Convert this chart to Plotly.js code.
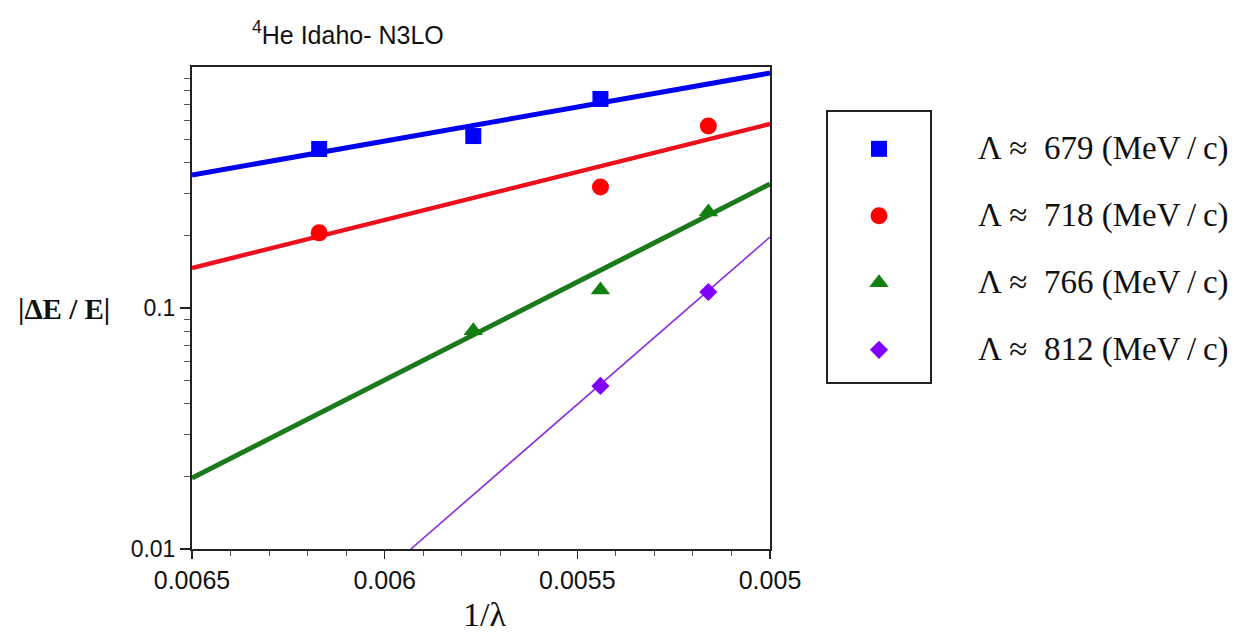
<!DOCTYPE html>
<html>
<head>
<meta charset="utf-8">
<script src="https://cdn.plot.ly/plotly-3.0.1.min.js"></script>
<style>html,body{margin:0;padding:0;background:#fff;}#chart{width:1248px;height:632px;}</style>
</head>
<body>
<div id="chart"></div>
<script>
// ---- data ----
const blueX = [0.00617, 0.00577, 0.00544];
const blueY = [0.457, 0.517, 0.737];
const redX = [0.00617, 0.00544, 0.00516];
const redY = [0.205, 0.318, 0.569];
const greenX = [0.00577, 0.00544, 0.00516];
const greenY = [0.0804, 0.1188, 0.250];
const purpleX = [0.00544, 0.00516];
const purpleY = [0.0475, 0.1165];

// fitted lines (end points)
const fitX = [0.0065, 0.005];
const blueFitY = [0.356, 0.944];
const redFitY = [0.1466, 0.580];
const greenFitY = [0.0197, 0.327];
const purpleFitX = [0.005932, 0.005];
const purpleFitY = [0.01, 0.197];

const cutoffs = ['679', '718', '766', '812'];
const xTickVals = [0.0065, 0.006, 0.0055, 0.005];
const xTickText = ['0.0065', '0.006', '0.0055', '0.005'];
const xMinorVals = [0.0064,0.0063,0.0062,0.0061,0.0059,0.0058,0.0057,0.0056,0.0054,0.0053,0.0052,0.0051];
const yTickVals = [0.01, 0.1];
const yTickText = ['0.01', '0.1'];
const yMinorVals = [0.02,0.03,0.04,0.05,0.06,0.07,0.08,0.09,0.2,0.3,0.4,0.5,0.6,0.7,0.8,0.9];

// ---- styles ----
const C = {
  blue: '#0000f0', red: '#ee0f1e', green: '#1b7a1b', purple: '#8a2be2',
  blueM: '#0000ff', redM: '#ff0000', greenM: '#118011', purpleM: '#7f00ff'
};
const W = 1248, H = 632;
const px = v => v / W, py = v => 1 - v / H;

const traces = [
  {x: fitX, y: blueFitY, mode: 'lines', line: {color: C.blue, width: 5}, showlegend: false, hoverinfo: 'skip'},
  {x: fitX, y: redFitY, mode: 'lines', line: {color: C.red, width: 4.5}, showlegend: false, hoverinfo: 'skip'},
  {x: fitX, y: greenFitY, mode: 'lines', line: {color: C.green, width: 5}, showlegend: false, hoverinfo: 'skip'},
  {x: purpleFitX, y: purpleFitY, mode: 'lines', line: {color: C.purple, width: 1.6}, showlegend: false, hoverinfo: 'skip'},
  {x: blueX, y: blueY, mode: 'markers', marker: {symbol: 'square', size: 16, color: C.blueM}, showlegend: false},
  {x: redX, y: redY, mode: 'markers', marker: {symbol: 'circle', size: 17, color: C.redM}, showlegend: false},
  {x: greenX, y: greenY, mode: 'markers', marker: {symbol: 'triangle-up', size: 17, color: C.greenM}, showlegend: false},
  {x: purpleX, y: purpleY, mode: 'markers', marker: {symbol: 'diamond', size: 14, color: C.purpleM}, showlegend: false}
];

// legend markers (in a separate small axis pair that forms the legend box)
const legendSymbols = ['square', 'circle', 'triangle-up', 'diamond'];
const legendColors = [C.blueM, C.redM, C.greenM, C.purpleM];
const legendSizes = [16, 17, 17, 14];
cutoffs.forEach((c, i) => {
  traces.push({
    x: [0], y: [i], xaxis: 'x2', yaxis: 'y2', mode: 'markers',
    marker: {symbol: legendSymbols[i], size: legendSizes[i], color: legendColors[i]},
    showlegend: false, hoverinfo: 'skip'
  });
});

const annotations = [
  {text: '<sup>4</sup>He Idaho- N3LO', x: px(348), y: py(33), xref: 'paper', yref: 'paper',
   xanchor: 'center', yanchor: 'middle', showarrow: false,
   font: {family: 'Liberation Sans, Arial, sans-serif', size: 25, color: '#111'}},
  {text: '<b>|ΔE / E|</b>', x: px(64), y: py(309), xref: 'paper', yref: 'paper',
   xanchor: 'center', yanchor: 'middle', showarrow: false,
   font: {family: 'Liberation Serif, Times New Roman, serif', size: 29, color: '#111'}},
  {text: '1/λ', x: px(484), y: py(614), xref: 'paper', yref: 'paper',
   xanchor: 'center', yanchor: 'middle', showarrow: false,
   font: {family: 'Liberation Serif, Times New Roman, serif', size: 34, color: '#111'}}
];
cutoffs.forEach((c, i) => {
  annotations.push({
    text: 'Λ ≈  ' + c + ' (MeV\u2009/\u2009c)', x: px(976), y: i, xref: 'paper', yref: 'y2',
    xanchor: 'left', yanchor: 'middle', showarrow: false,
    font: {family: 'Liberation Serif, Times New Roman, serif', size: 33, color: '#111'}
  });
});

const layout = {
  width: W, height: H,
  margin: {l: 0, r: 0, t: 0, b: 0},
  paper_bgcolor: '#fff', plot_bgcolor: '#fff',
  showlegend: false,
  xaxis: {
    domain: [px(192), px(770)], range: [0.0065, 0.005], autorange: false,
    tickmode: 'array', tickvals: xTickVals, ticktext: xTickText,
    ticks: 'outside', ticklen: 8, tickwidth: 1.5, tickcolor: '#222',
    minor: {tickmode: 'array', tickvals: xMinorVals, ticks: 'outside', ticklen: 5, tickwidth: 1, tickcolor: '#555', showgrid: false},
    showline: true, linecolor: '#222', linewidth: 2, mirror: true,
    showgrid: false, zeroline: false, automargin: false,
    tickfont: {family: 'Liberation Sans, Arial, sans-serif', size: 25, color: '#111'}
  },
  yaxis: {
    domain: [py(549), py(67)], type: 'log', range: [-2, 0], autorange: false,
    tickmode: 'array', tickvals: yTickVals, ticktext: yTickText,
    ticks: 'outside', ticklen: 10, tickwidth: 1.5, tickcolor: '#222',
    minor: {tickmode: 'array', tickvals: yMinorVals, ticks: 'outside', ticklen: 6, tickwidth: 1, tickcolor: '#555', showgrid: false},
    showline: true, linecolor: '#222', linewidth: 2, mirror: true,
    showgrid: false, zeroline: false, automargin: false,
    tickfont: {family: 'Liberation Sans, Arial, sans-serif', size: 23, color: '#111'}
  },
  xaxis2: {
    domain: [px(828), px(930)], range: [-1, 1], anchor: 'y2',
    showline: true, linecolor: '#222', linewidth: 2, mirror: true,
    showticklabels: false, ticks: '', showgrid: false, zeroline: false, fixedrange: true
  },
  yaxis2: {
    domain: [py(382), py(112)], range: [3.48, -0.55], anchor: 'x2',
    showline: true, linecolor: '#222', linewidth: 2, mirror: true,
    showticklabels: false, ticks: '', showgrid: false, zeroline: false, fixedrange: true
  },
  annotations: annotations
};

Plotly.newPlot('chart', traces, layout, {displayModeBar: false, staticPlot: true});
</script>
</body>
</html>
